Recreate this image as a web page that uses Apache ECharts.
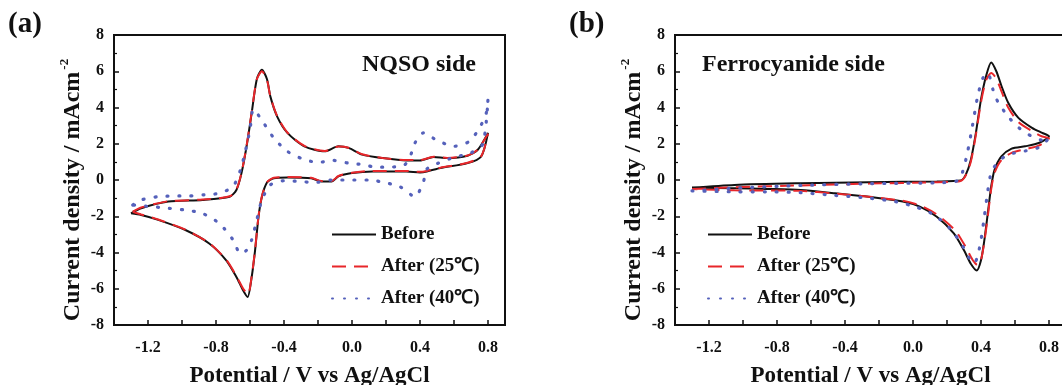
<!DOCTYPE html>
<html>
<head>
<meta charset="utf-8">
<script src="https://cdn.jsdelivr.net/npm/echarts@6/dist/echarts.min.js"></script>
<style>
  html, body { margin: 0; padding: 0; background: #fff; }
  #chart { width: 1062px; height: 385px; }
</style>
</head>
<body>
<div id="chart"></div>
<script>
// values: [potential V, current density mA/cm2]
const seriesNames = ["Before", "After (25\u2103)", "After (40\u2103)"];

// (a) NQSO side
const nqsoBefore = [
  [-1.30, -1.84], [-1.24, -1.56], [-1.08, -1.19], [-0.88, -1.10], [-0.72, -0.92], [-0.68, -0.55],
  [-0.65, 0.38], [-0.62, 1.86], [-0.59, 3.70], [-0.56, 5.56], [-0.53, 6.08], [-0.50, 5.56],
  [-0.48, 4.60], [-0.44, 3.50], [-0.38, 2.60], [-0.28, 1.86], [-0.16, 1.58], [-0.08, 1.86],
  [-0.02, 1.77], [0.06, 1.40], [0.18, 1.21], [0.32, 1.08], [0.40, 1.08], [0.48, 1.27],
  [0.56, 1.21], [0.68, 1.34], [0.74, 1.67], [0.80, 2.60],
  [0.76, 1.30], [0.68, 0.93], [0.52, 0.66], [0.44, 0.47], [0.40, 0.42], [0.32, 0.47],
  [0.12, 0.47], [0.00, 0.38], [-0.08, 0.20], [-0.12, -0.08], [-0.18, -0.08], [-0.24, 0.10],
  [-0.38, 0.14], [-0.46, 0.10], [-0.50, -0.14], [-0.53, -0.92], [-0.55, -2.03], [-0.57, -3.87],
  [-0.59, -5.35], [-0.614, -6.46], [-0.64, -6.10], [-0.68, -5.35], [-0.74, -4.43], [-0.84, -3.50],
  [-0.98, -2.76], [-1.14, -2.20], [-1.24, -1.93], [-1.30, -1.84]
];
const nqsoAfter25 = [
  [-1.29, -1.75], [-1.24, -1.52], [-1.08, -1.17], [-0.88, -1.08], [-0.72, -0.90], [-0.68, -0.52],
  [-0.65, 0.40], [-0.62, 1.90], [-0.59, 3.75], [-0.56, 5.55], [-0.53, 6.00], [-0.50, 5.50],
  [-0.48, 4.60], [-0.44, 3.52], [-0.38, 2.62], [-0.28, 1.88], [-0.16, 1.60], [-0.08, 1.85],
  [-0.02, 1.78], [0.06, 1.42], [0.18, 1.22], [0.32, 1.10], [0.40, 1.10], [0.48, 1.28],
  [0.56, 1.22], [0.68, 1.35], [0.74, 1.68], [0.80, 2.55],
  [0.76, 1.32], [0.68, 0.95], [0.52, 0.68], [0.44, 0.50], [0.40, 0.45], [0.32, 0.50],
  [0.12, 0.50], [0.00, 0.40], [-0.08, 0.22], [-0.12, -0.06], [-0.18, -0.06], [-0.24, 0.12],
  [-0.38, 0.16], [-0.46, 0.12], [-0.50, -0.12], [-0.53, -0.90], [-0.55, -2.00], [-0.57, -3.85],
  [-0.59, -5.30], [-0.612, -6.30], [-0.64, -6.00], [-0.68, -5.30], [-0.74, -4.40], [-0.84, -3.48],
  [-0.98, -2.74], [-1.14, -2.18], [-1.24, -1.90], [-1.29, -1.75]
];
const nqsoAfter40 = [
  [-1.29, -1.38], [-1.24, -1.10], [-1.14, -0.92], [-1.05, -0.88], [-0.96, -0.88], [-0.87, -0.82],
  [-0.78, -0.73], [-0.70, -0.36], [-0.656, 0.56], [-0.63, 1.48], [-0.60, 2.78], [-0.58, 3.90],
  [-0.52, 3.15], [-0.46, 2.32], [-0.38, 1.58], [-0.29, 1.16], [-0.20, 0.97], [-0.11, 1.08],
  [-0.02, 0.93], [0.07, 0.84], [0.14, 0.71], [0.22, 0.71], [0.31, 0.84], [0.35, 1.49],
  [0.37, 2.04], [0.42, 2.60], [0.50, 2.19], [0.60, 1.86], [0.69, 2.13], [0.75, 2.87],
  [0.79, 3.70], [0.80, 4.45],
  [0.77, 2.00], [0.70, 1.50], [0.60, 1.25], [0.50, 0.90], [0.44, 0.60], [0.42, -0.10],
  [0.37, -0.92], [0.28, -0.36], [0.19, -0.14], [0.10, 0.00], [0.04, 0.00], [-0.04, 0.00],
  [-0.12, 0.00], [-0.22, -0.14], [-0.31, -0.08], [-0.40, -0.04], [-0.48, -0.27], [-0.53, -1.10],
  [-0.56, -2.20], [-0.59, -3.30], [-0.62, -3.87], [-0.656, -4.06], [-0.70, -3.30], [-0.78, -2.40],
  [-0.88, -1.84], [-0.98, -1.66], [-1.08, -1.56], [-1.18, -1.47], [-1.29, -1.38]
];

// (b) Ferrocyanide side
const ferroBefore = [
  [-1.30, -0.42], [-1.05, -0.27], [-0.66, -0.18], [-0.26, -0.12], [0.14, -0.08], [0.28, -0.03],
  [0.31, 0.28], [0.34, 1.10], [0.37, 2.60], [0.40, 4.45], [0.43, 5.74], [0.46, 6.48],
  [0.49, 6.00], [0.52, 5.20], [0.56, 4.26], [0.62, 3.43], [0.70, 2.88], [0.76, 2.60], [0.80, 2.41],
  [0.74, 2.04], [0.66, 1.86], [0.58, 1.73], [0.52, 1.30], [0.48, 0.57], [0.46, -0.36],
  [0.44, -1.84], [0.42, -3.30], [0.40, -4.43], [0.375, -4.99], [0.34, -4.62], [0.30, -3.88],
  [0.24, -2.95], [0.14, -2.03], [0.04, -1.47], [-0.06, -1.19], [-0.26, -0.92], [-0.46, -0.73],
  [-0.66, -0.55], [-0.86, -0.49], [-1.05, -0.45], [-1.30, -0.42]
];
const ferroAfter25 = [
  [-1.30, -0.50], [-1.05, -0.40], [-0.66, -0.30], [-0.26, -0.20], [0.14, -0.12], [0.28, -0.05],
  [0.31, 0.25], [0.34, 1.00], [0.37, 2.50], [0.40, 4.30], [0.43, 5.50], [0.46, 5.90],
  [0.49, 5.60], [0.52, 4.90], [0.56, 4.00], [0.62, 3.20], [0.70, 2.70], [0.76, 2.40], [0.80, 2.30],
  [0.74, 1.90], [0.66, 1.70], [0.58, 1.50], [0.52, 1.10], [0.48, 0.40], [0.46, -0.50],
  [0.44, -2.00], [0.42, -3.40], [0.40, -4.40], [0.38, -4.70], [0.35, -4.40], [0.31, -3.70],
  [0.25, -2.80], [0.14, -1.90], [0.04, -1.40], [-0.06, -1.15], [-0.26, -0.92], [-0.46, -0.75],
  [-0.66, -0.60], [-0.86, -0.58], [-1.05, -0.57], [-1.30, -0.50]
];
const ferroAfter40 = [
  [-1.30, -0.60], [-1.05, -0.45], [-0.66, -0.30], [-0.26, -0.20], [0.14, -0.15], [0.26, -0.05],
  [0.29, 0.40], [0.32, 1.50], [0.35, 3.00], [0.38, 4.60], [0.41, 5.60], [0.44, 5.90],
  [0.47, 5.00], [0.50, 4.30], [0.56, 3.50], [0.62, 2.90], [0.70, 2.40], [0.76, 2.20], [0.80, 2.30],
  [0.74, 1.80], [0.66, 1.60], [0.56, 1.40], [0.50, 1.00], [0.46, 0.40], [0.44, -0.60],
  [0.42, -2.00], [0.40, -3.30], [0.38, -4.20], [0.36, -4.60], [0.33, -4.30], [0.29, -3.60],
  [0.22, -2.70], [0.12, -1.90], [0.02, -1.50], [-0.10, -1.20], [-0.26, -1.00], [-0.46, -0.85],
  [-0.66, -0.70], [-0.86, -0.65], [-1.05, -0.65], [-1.30, -0.60]
];

const serif = "Liberation Serif";
const ink = "#111";
const colors = ["#111111", "#e8262a", "#5561bb"];
const lineStyles = [
  { width: 2, type: "solid" },
  { width: 2, type: [14, 8] },
  { width: 3.2, type: [1, 11], cap: "round" }
];

const chart = echarts.init(document.getElementById("chart"), null, { renderer: "canvas" });

function xAxisFor(gridIndex) {
  return {
    gridIndex: gridIndex,
    type: "value",
    min: -1.4,
    max: 0.9,
    interval: 0.2,
    name: "Potential / V vs Ag/AgCl",
    nameLocation: "middle",
    nameGap: 40,
    nameTextStyle: { fontFamily: serif, fontWeight: "bold", fontSize: 23, color: ink },
    axisLine: { onZero: false, lineStyle: { color: ink, width: 2 } },
    axisTick: { inside: true, length: 5, lineStyle: { color: ink, width: 1.5 } },
    axisLabel: {
      margin: 15,
      fontFamily: serif, fontWeight: "bold", fontSize: 16, color: ink,
      formatter: (v) => {
        const k = Math.round((v + 1.2) / 0.2);
        return k % 2 === 0 ? v.toFixed(1) : "";
      }
    },
    splitLine: { show: false }
  };
}

function yAxisFor(gridIndex) {
  return {
    gridIndex: gridIndex,
    type: "value",
    min: -8,
    max: 8,
    interval: 2,
    name: "{m|Current density / mAcm}{s|-2}",
    nameLocation: "middle",
    nameGap: 27,
    nameTextStyle: {
      fontFamily: serif, fontWeight: "bold", fontSize: 24, color: ink,
      padding: [0, 20, 0, 0],
      rich: {
        m: { fontFamily: serif, fontWeight: "bold", fontSize: 24, color: ink },
        s: { fontFamily: serif, fontWeight: "bold", fontSize: 13, color: ink, verticalAlign: "top", padding: [0, 0, 16, 2] }
      }
    },
    axisLine: { onZero: false, lineStyle: { color: ink, width: 2 } },
    axisTick: { inside: true, length: 5, lineStyle: { color: ink, width: 1.5 } },
    minorTick: { show: true, splitNumber: 2, length: 3, lineStyle: { color: ink, width: 1.2 } },
    axisLabel: { margin: 10, fontFamily: serif, fontWeight: "bold", fontSize: 16, color: ink },
    splitLine: { show: false }
  };
}

function cvSeries(gridIndex, data, i) {
  return {
    name: seriesNames[i],
    type: "line",
    xAxisIndex: gridIndex,
    yAxisIndex: gridIndex,
    data: data,
    symbol: "none",
    smooth: 0.25,
    z: 2 + i,
    color: colors[i],
    lineStyle: Object.assign({ color: colors[i] }, lineStyles[i])
  };
}

function legendAt(left) {
  return {
    data: seriesNames,
    orient: "vertical",
    left: left,
    top: 225,
    padding: 0,
    itemWidth: 44,
    itemHeight: 14,
    itemGap: 13,
    itemStyle: { opacity: 0 },
    textStyle: { fontFamily: serif, fontWeight: "bold", fontSize: 19, color: ink }
  };
}

const option = {
  animation: false,
  backgroundColor: "#fff",
  title: [
    { text: "(a)", left: 8, top: 10, padding: 0, textStyle: { fontFamily: serif, fontWeight: "bold", fontSize: 29, color: ink } },
    { text: "(b)", left: 569, top: 10, padding: 0, textStyle: { fontFamily: serif, fontWeight: "bold", fontSize: 29, color: ink } },
    { text: "NQSO side", left: 362, top: 53, padding: 0, textStyle: { fontFamily: serif, fontWeight: "bold", fontSize: 24, color: ink } },
    { text: "Ferrocyanide side", left: 702, top: 53, padding: 0, textStyle: { fontFamily: serif, fontWeight: "bold", fontSize: 24, color: ink } }
  ],
  legend: [legendAt(331), legendAt(707)],
  grid: [
    { left: 114, top: 35, width: 391, height: 290, outerBoundsMode: "none", show: true, borderColor: ink, borderWidth: 2, backgroundColor: "transparent" },
    { left: 675, top: 35, width: 391, height: 290, outerBoundsMode: "none", show: true, borderColor: ink, borderWidth: 2, backgroundColor: "transparent" }
  ],
  xAxis: [xAxisFor(0), xAxisFor(1)],
  yAxis: [yAxisFor(0), yAxisFor(1)],
  series: [
    cvSeries(0, nqsoBefore, 0),
    cvSeries(0, nqsoAfter25, 1),
    cvSeries(0, nqsoAfter40, 2),
    cvSeries(1, ferroBefore, 0),
    cvSeries(1, ferroAfter25, 1),
    cvSeries(1, ferroAfter40, 2)
  ]
};

chart.setOption(option);
</script>
</body>
</html>
